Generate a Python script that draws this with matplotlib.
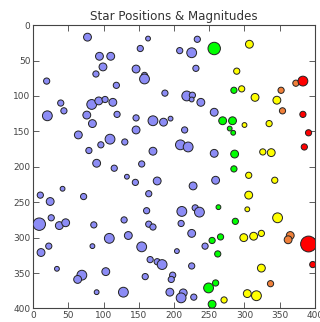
import matplotlib
matplotlib.use("Agg")
import matplotlib.pyplot as plt

# star data: x, y, size class, color class
xs = [77,163,152,233,208,225,257,307,94,110,99,146,158,158,89,231,289,19,118,187,
      218,226,225,285,296,315,346,352,373,383,39,83,93,102,113,238,43.5,20,76,84,
      64,119,146,170,185,195,146,215,257,269,283,279,284,300,335,354,383,391,385,109,
      130,96,79,170,209,220,257,286,326,338,90,154,115,285,306,133,145,176,259,343,
      227,41.6,10,71.5,164,306,24,161,211,230,236,263,304,8.5,25.5,37,46,86,129,164,
      170,210,287,347,135,108,225,254,266,299,313,324,365,362,391,22,11,84,154,204,
      244,262,166,176,183,225,33.6,103,69,63,159,198,196,324,397,337,259,249,90,128,
      194,213,210,228,304,317,271,254]
ys = [17,19,33,20,36,39,33,27,44,44,59,62,71,76,69,61,65,79,85,96,
      100,99,105,92,90,102,106,92,82,79,110,112,107,105,109,109,121,128,127,139,
      155,126,131,135,137,132,148,148,123,135,135,146,152,141,139,121,126,152,172,161,
      165,169,177,178,169,172,181,182,179,180,195,196,202,203,212,214,222,220,219,219,
      227,231,240,242,238,240,249,262,263,258,264,257,260,281,272,283,279,282,275,281,
      285,280,277,272,297,301,294,304,299,300,298,294,297,303,309,312,321,312,313,319,
      312,323,331,334,338,340,344,348,353,359,355,353,359,343,338,365,364,371,377,377,
      377,378,385,384,379,382,388,394]
size_cls = list("mtssslxmmm") + list("mmslssssss") + \
           list("lstssmmssl") + list("slmsmmslmm") + \
           list("msslmtmsmm") + list("mtttsssssl") + \
           list("sssmllmmsm") + list("msssstsmmsss")[:10] + \
           list("mtsssmmsls") + list("lttxsmmsss") + \
           list("ssslmlmssm") + list("msmmXsmtlt") + \
           list("sssslstmlm") + list("sssmsssltl") + \
           list("mmlsmlsm")
color_cls = list("BBBBBBGYBB") + list("BBBBBBYBBB") + \
            list("BBBGYYYOOR") + list("BBBBBBBBBB") + \
            list("BBBBBBBBBG") + list("GGGYYORRRB") + \
            list("BBBBBBBGYY") + list("BBBGYBBBBY") + \
            list("BBBBBYBBBB") + list("BGYBBBBBBB") + \
            list("BBGYBBBGGY") + list("YYOORBBBBB") + \
            list("BGBBBBBBBB") + list("BBBYROGGBB") + \
            list("BBBBYYYG")

size_map = {"t": 12, "s": 20, "m": 32, "l": 50, "x": 80, "X": 130}
color_map = {"B": "#8c8cf5", "G": "#00ff00", "Y": "#ffff00", "O": "#f0803a", "R": "#ff0000"}

n = min(len(xs), len(ys), len(size_cls), len(color_cls))
sizes = [size_map[c] for c in size_cls[:n]]
colors = [color_map[c] for c in color_cls[:n]]

fig = plt.figure(figsize=(3.2, 3.22), dpi=100)
ax = fig.add_axes([0.104, 0.042, 0.880, 0.880])
ax.scatter(xs[:n], ys[:n], s=sizes, c=colors, edgecolors="#222222", linewidths=0.7, zorder=3)
ax.set_xlim(0, 400)
ax.set_ylim(400, 0)
ax.set_xticks(range(0, 401, 50))
ax.set_yticks(range(0, 401, 50))
ax.tick_params(direction="in", top=True, right=True, labelsize=6.5, colors="#444444",
               length=4, width=0.6, pad=2)
for sp in ax.spines.values():
    sp.set_color("#444444")
    sp.set_linewidth(0.8)
ax.set_title("Star Positions & Magnitudes", fontsize=8.6, color="#333333", pad=4)
fig.savefig("out.png", dpi=100)
